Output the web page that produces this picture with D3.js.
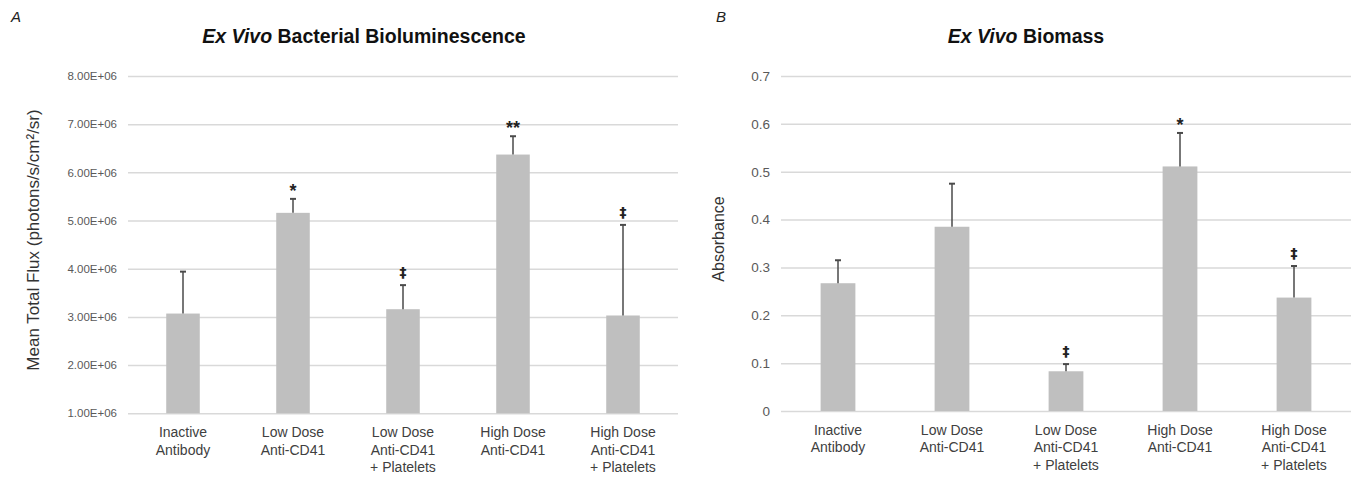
<!DOCTYPE html>
<html>
<head>
<meta charset="utf-8">
<script src="https://cdn.jsdelivr.net/npm/d3@7"></script>
<style>
  html, body { margin: 0; padding: 0; background: #fff; }
  svg { display: block; font-family: "Liberation Sans", Arial, sans-serif; }
  .grid line { stroke: #d9d9d9; stroke-width: 1.5; }
  .grid .domain { display: none; }
  .grid text { fill: #595959; }
</style>
</head>
<body>
<div id="chart"></div>
<script>
// Categories (shared by both panels)
const categories = [
    ["Inactive", "Antibody"],
    ["Low Dose", "Anti-CD41"],
    ["Low Dose", "Anti-CD41", "+ Platelets"],
    ["High Dose", "Anti-CD41"],
    ["High Dose", "Anti-CD41", "+ Platelets"]
];

// Panel A - bioluminescence
const fluxMeans = [3.07e6, 5.16e6, 3.16e6, 6.37e6, 3.03e6];
const fluxErrors = [0.87e6, 0.29e6, 0.50e6, 0.38e6, 1.88e6];
const fluxMarks = ["", "*", "‡", "**", "‡"];
const fluxTicks = [1e6, 2e6, 3e6, 4e6, 5e6, 6e6, 7e6, 8e6];

// Panel B - biomass
const biomassMeans = [0.267, 0.385, 0.083, 0.511, 0.237];
const biomassErrors = [0.048, 0.090, 0.015, 0.070, 0.066];
const biomassMarks = ["", "", "‡", "*", "‡"];
const biomassTicks = [0, 0.1, 0.2, 0.3, 0.4, 0.5, 0.6, 0.7];

const svg = d3.select("#chart")
    .append("svg")
    .attr("width", 1355)
    .attr("height", 477);

function drawPanel(opts) {
    const x = d3.scaleBand()
        .domain(d3.range(categories.length))
        .range([opts.left, opts.right])
        .paddingInner(0.695)
        .paddingOuter(0.3475);

    const y = d3.scaleLinear()
        .domain(opts.domain)
        .range([opts.bottom, opts.top]);

    const g = svg.append("g");

    // panel letter
    g.append("text")
        .attr("x", opts.letterX)
        .attr("y", 22)
        .attr("font-size", 15)
        .attr("font-style", "italic")
        .attr("fill", "#222")
        .text(opts.letter);

    // title
    const title = g.append("text")
        .attr("x", opts.titleX)
        .attr("y", 43)
        .attr("text-anchor", "middle")
        .attr("font-size", 19.5)
        .attr("font-weight", "bold")
        .attr("fill", "#111");
    title.append("tspan").attr("font-style", "italic").text("Ex Vivo");
    title.append("tspan").text(" " + opts.title);

    // gridlines + tick labels
    const yAxis = d3.axisLeft(y)
        .tickValues(opts.ticks)
        .tickSize(-(opts.right - opts.left))
        .tickPadding(11)
        .tickFormat(opts.format);

    g.append("g")
        .attr("class", "grid")
        .attr("transform", `translate(${opts.left},0)`)
        .call(yAxis)
        .call(s => s.selectAll("text").attr("font-size", opts.tickFont).attr("font-family", null));
    g.select(".grid").selectAll("line").attr("x1", 0).attr("x2", opts.right - opts.left);

    // y axis title
    g.append("text")
        .attr("transform", `translate(${opts.yLabelX},${opts.yLabelY}) rotate(-90)`)
        .attr("text-anchor", "middle")
        .attr("font-size", opts.yLabelFont)
        .attr("fill", "#333")
        .text(opts.yLabel);

    // bars
    g.selectAll("rect.bar")
        .data(opts.means)
        .join("rect")
        .attr("class", "bar")
        .attr("x", (d, i) => x(i))
        .attr("width", x.bandwidth())
        .attr("y", d => y(d))
        .attr("height", d => y(opts.domain[0]) - y(d))
        .attr("fill", "#bfbfbf");

    // error bars (upper only)
    const cx = i => x(i) + x.bandwidth() / 2;
    g.selectAll("line.err")
        .data(opts.means)
        .join("line")
        .attr("class", "err")
        .attr("x1", (d, i) => cx(i))
        .attr("x2", (d, i) => cx(i))
        .attr("y1", d => y(d))
        .attr("y2", (d, i) => y(d + opts.errors[i]))
        .attr("stroke", "#4a4a4a")
        .attr("stroke-width", 1.5);

    g.selectAll("line.cap")
        .data(opts.means)
        .join("line")
        .attr("class", "cap")
        .attr("x1", (d, i) => cx(i) - 3)
        .attr("x2", (d, i) => cx(i) + 3)
        .attr("y1", (d, i) => y(d + opts.errors[i]))
        .attr("y2", (d, i) => y(d + opts.errors[i]))
        .attr("stroke", "#4a4a4a")
        .attr("stroke-width", 2);

    // significance marks
    const isStar = d => d.indexOf("*") >= 0;
    g.selectAll("text.mark")
        .data(opts.marks)
        .join("text")
        .attr("class", "mark")
        .attr("x", (d, i) => cx(i))
        .attr("y", (d, i) => y(opts.means[i] + opts.errors[i]) - (isStar(d) ? 2 : 8))
        .attr("text-anchor", "middle")
        .attr("font-family", d => isStar(d) ? null : "DejaVu Sans, sans-serif")
        .attr("font-size", d => isStar(d) ? 18 : 14)
        .attr("font-weight", "bold")
        .attr("fill", "#222")
        .text(d => d);

    // category labels
    const cat = g.selectAll("text.cat")
        .data(categories)
        .join("text")
        .attr("class", "cat")
        .attr("x", (d, i) => cx(i))
        .attr("y", opts.bottom + 24)
        .attr("text-anchor", "middle")
        .attr("font-size", 14)
        .attr("fill", "#404040");
    cat.selectAll("tspan")
        .data(d => d)
        .join("tspan")
        .attr("x", function() { return d3.select(this.parentNode).attr("x"); })
        .attr("dy", (d, j) => j === 0 ? 0 : 17.4)
        .text(d => d);
}

drawPanel({
    letter: "A", letterX: 11,
    title: "Bacterial Bioluminescence", titleX: 364,
    left: 128, right: 678, top: 76, bottom: 413.3,
    domain: [1e6, 8e6], ticks: fluxTicks,
    format: v => (v / 1e6).toFixed(2) + "E+06", tickFont: 11.5,
    yLabel: "Mean Total Flux (photons/s/cm\u00b2/sr)", yLabelX: 39, yLabelY: 240, yLabelFont: 17,
    means: fluxMeans, errors: fluxErrors, marks: fluxMarks
});

drawPanel({
    letter: "B", letterX: 716,
    title: "Biomass", titleX: 1026,
    left: 781, right: 1351, top: 76, bottom: 411,
    domain: [0, 0.7], ticks: biomassTicks,
    format: v => v === 0 ? "0" : d3.format(".1f")(v), tickFont: 13.5,
    yLabel: "Absorbance", yLabelX: 724, yLabelY: 239, yLabelFont: 16,
    means: biomassMeans, errors: biomassErrors, marks: biomassMarks
});
</script>
</body>
</html>
